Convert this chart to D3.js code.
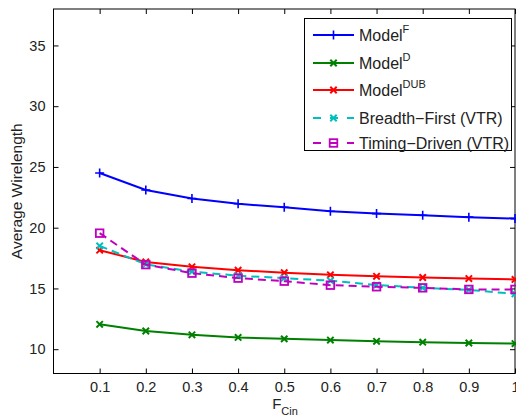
<!DOCTYPE html>
<html>
<head>
<meta charset="utf-8">
<script src="https://cdn.jsdelivr.net/npm/d3@7"></script>
<style>
  html, body { margin: 0; padding: 0; background: #fff; }
  svg { display: block; font-family: "Liberation Sans", Arial, Helvetica, sans-serif; }
</style>
</head>
<body>
<svg id="chart" width="516" height="419"></svg>
<script>
// Fraction of connection-block inputs (F_Cin)
const fcin = [0.1, 0.2, 0.3, 0.4, 0.5, 0.6, 0.7, 0.8, 0.9, 1.0];

// Average wirelength for each routing model / router
const modelF      = [24.5, 23.1, 22.4, 21.97, 21.68, 21.36, 21.16, 21.02, 20.87, 20.75];
const modelD      = [12.05, 11.5, 11.18, 10.97, 10.85, 10.75, 10.65, 10.58, 10.51, 10.46];
const modelDUB    = [18.15, 17.18, 16.78, 16.5, 16.3, 16.12, 16.0, 15.9, 15.81, 15.74];
const breadthVTR  = [18.5, 16.98, 16.38, 16.05, 15.85, 15.64, 15.28, 15.05, 14.88, 14.55];
const timingVTR   = [19.55, 16.96, 16.26, 15.85, 15.6, 15.27, 15.14, 15.05, 14.92, 14.92];

const xTicks = [0.1, 0.2, 0.3, 0.4, 0.5, 0.6, 0.7, 0.8, 0.9, 1];
const yTicks = [10, 15, 20, 25, 30, 35];

const series = [
  { name: "Model", sup: "F",   values: modelF,     color: "#0000ff", dash: null,  marker: "plus" },
  { name: "Model", sup: "D",   values: modelD,     color: "#008000", dash: null,  marker: "cross" },
  { name: "Model", sup: "DUB", values: modelDUB,   color: "#ff0000", dash: null,  marker: "cross" },
  { name: "Breadth\u2212First (VTR)", sup: null, values: breadthVTR, color: "#00bfbf", dash: "8,5", marker: "cross" },
  { name: "Timing\u2212Driven (VTR)", sup: null, values: timingVTR,  color: "#bf00bf", dash: "8,5", marker: "square" }
];

const svg = d3.select("#chart");
const plot = { left: 53.5, right: 515, top: 9, bottom: 373.5 };

const x = d3.scaleLinear().domain([0, 1]).range([plot.left, plot.right]);
const y = d3.scaleLinear().domain([8, 38]).range([plot.bottom, plot.top]);

// Axes box with inward ticks on all four sides
const tickLen = 5;
const axisColor = "#000";
const labelSize = 14.5;

svg.append("rect")
  .attr("x", plot.left).attr("y", plot.top)
  .attr("width", plot.right - plot.left).attr("height", plot.bottom - plot.top)
  .attr("fill", "none").attr("stroke", axisColor).attr("stroke-width", 1);

const fmt = d => String(+d.toFixed(1));
const bottomAxis = d3.axisBottom(x).tickValues(xTicks).tickSizeInner(-tickLen).tickSizeOuter(0)
  .tickPadding(8).tickFormat(fmt);
const topAxis = d3.axisTop(x).tickValues(xTicks).tickSizeInner(-tickLen).tickSizeOuter(0).tickFormat("");
const leftAxis = d3.axisLeft(y).tickValues(yTicks).tickSizeInner(-tickLen).tickSizeOuter(0).tickPadding(8);
const rightAxis = d3.axisRight(y).tickValues(yTicks).tickSizeInner(-tickLen).tickSizeOuter(0).tickFormat("");

function styleAxis(g) {
  g.select(".domain").remove();
  g.selectAll(".tick line").attr("stroke", axisColor).attr("stroke-width", 1);
  g.selectAll(".tick text")
    .attr("fill", "#222")
    .style("font-size", labelSize + "px")
    .style("font-family", "Liberation Sans, Arial, sans-serif");
}

svg.append("g").attr("transform", `translate(0,${plot.bottom})`).call(bottomAxis).call(styleAxis);
svg.append("g").attr("transform", `translate(0,${plot.top})`).call(topAxis).call(styleAxis);
svg.append("g").attr("transform", `translate(${plot.left},0)`).call(leftAxis).call(styleAxis);
svg.append("g").attr("transform", `translate(${plot.right},0)`).call(rightAxis).call(styleAxis);

// Axis titles
svg.append("text")
  .attr("transform", `translate(22,${(plot.top + plot.bottom) / 2}) rotate(-90)`)
  .attr("text-anchor", "middle")
  .attr("fill", "#222")
  .style("font-size", "15.5px")
  .text("Average Wirelength");

const xl = svg.append("text")
  .attr("x", 285).attr("y", 409)
  .attr("text-anchor", "middle")
  .attr("fill", "#222")
  .style("font-size", "15px");
xl.append("tspan").text("F");
xl.append("tspan").attr("dy", 6).style("font-size", "11px").text("Cin");

// Markers
function drawMarker(g, type, cx, cy, color) {
  if (type === "plus") {
    g.append("path").attr("d", `M${cx - 4.5},${cy}H${cx + 4.5}M${cx},${cy - 4.5}V${cy + 4.5}`)
      .attr("stroke", color).attr("stroke-width", 1.6).attr("fill", "none");
  } else if (type === "cross") {
    const s = 3.2;
    g.append("path").attr("d", `M${cx - s},${cy - s}L${cx + s},${cy + s}M${cx - s},${cy + s}L${cx + s},${cy - s}`)
      .attr("stroke", color).attr("stroke-width", 2).attr("fill", "none");
  } else if (type === "square") {
    const s = 3.8;
    g.append("rect").attr("x", cx - s).attr("y", cy - s).attr("width", 2 * s).attr("height", 2 * s)
      .attr("stroke", color).attr("stroke-width", 1.8).attr("fill", "none");
  }
}

const line = d3.line().x((d, i) => x(fcin[i])).y(d => y(d));

const plotG = svg.append("g");
series.forEach(s => {
  const g = plotG.append("g");
  g.append("path")
    .datum(s.values)
    .attr("d", line)
    .attr("fill", "none")
    .attr("stroke", s.color)
    .attr("stroke-width", 2)
    .attr("stroke-dasharray", s.dash);
  s.values.forEach((v, i) => drawMarker(g, s.marker, x(fcin[i]), y(v), s.color));
});

// Legend
const legend = svg.append("g");
legend.append("rect")
  .attr("x", 304.5).attr("y", 18.5).attr("width", 207).attr("height", 132)
  .attr("fill", "#fff").attr("stroke", "#000").attr("stroke-width", 1);

const legendY = [35, 63, 90, 118, 143];
series.forEach((s, i) => {
  const ly = legendY[i];
  legend.append("line")
    .attr("x1", 313).attr("x2", 354).attr("y1", ly).attr("y2", ly)
    .attr("stroke", s.color).attr("stroke-width", 2)
    .attr("stroke-dasharray", s.dash ? "8,9" : null);
  drawMarker(legend, s.marker, 333.5, ly, s.color);
  const t = legend.append("text")
    .attr("x", 359).attr("y", ly + 6)
    .attr("fill", "#222")
    .style("font-size", "16px");
  t.append("tspan").text(s.name);
  if (s.sup) {
    t.append("tspan").attr("dy", -8.5).style("font-size", "11px").text(s.sup);
  }
});
</script>
</body>
</html>
